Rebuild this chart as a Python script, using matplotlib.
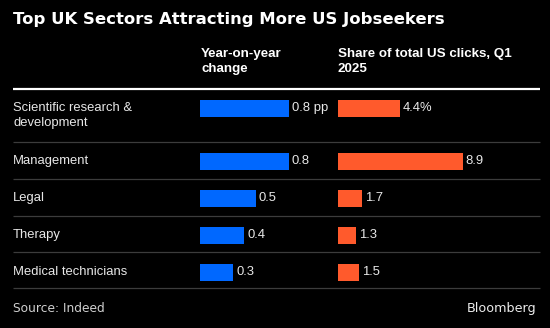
import matplotlib
matplotlib.use("Agg")
import matplotlib.pyplot as plt

# ---- data ----
sectors = ["Scientific research &\ndevelopment", "Management", "Legal", "Therapy", "Medical technicians"]
yoy_change = [0.8, 0.8, 0.5, 0.4, 0.3]
share_clicks = [4.4, 8.9, 1.7, 1.3, 1.5]
yoy_labels = ["0.8 pp", "0.8", "0.5", "0.4", "0.3"]
share_labels = ["4.4%", "8.9", "1.7", "1.3", "1.5"]

title = "Top UK Sectors Attracting More US Jobseekers"
col1_header = "Year-on-year\nchange"
col2_header = "Share of total US clicks, Q1\n2025"
source = "Source: Indeed"
brand = "Bloomberg"

BLUE = "#0068FF"
ORANGE = "#FF5A2C"
BG = "#000000"

W, H = 550, 328
fig = plt.figure(figsize=(W / 100, H / 100), dpi=100, facecolor=BG)

base = fig.add_axes([0, 0, 1, 1])
base.set_xlim(0, W)
base.set_ylim(H, 0)
base.axis("off")
base.set_facecolor(BG)

row_y = [108, 161, 198, 235, 272]
bar_h = 17

def panel(x0, width_px, xmax):
    ax = fig.add_axes([x0 / W, 0, width_px / W, 1])
    ax.set_xlim(0, xmax)
    ax.set_ylim(H, 0)
    ax.axis("off")
    ax.patch.set_alpha(0)
    return ax

ax1 = panel(200, 111, 1.0)
ax2 = panel(338, 140, 10.0)

lab_font = dict(family="Liberation Sans", size=9.4, color="#e8e8e8")

ax1.barh(row_y, yoy_change, height=bar_h, color=BLUE, left=0)
for y, v, t in zip(row_y, yoy_change, yoy_labels):
    ax1.annotate(t, (v, y), xytext=(3, 0), textcoords="offset pixels",
                 va="center", ha="left", **lab_font)

ax2.barh(row_y, share_clicks, height=bar_h, color=ORANGE, left=0)
for y, v, t in zip(row_y, share_clicks, share_labels):
    ax2.annotate(t, (v, y), xytext=(3, 0), textcoords="offset pixels",
                 va="center", ha="left", **lab_font)

# sector labels
for i, (y, s) in enumerate(zip(row_y, sectors)):
    if "\n" in s:
        base.text(13, 102, s, va="top", ha="left", linespacing=1.3, **lab_font)
    else:
        base.text(13, y, s, va="center", ha="left", **lab_font)

# title
base.text(13, 24, title, va="baseline", ha="left", family="DejaVu Sans",
          fontweight="bold", size=11.85, color="white")

# headers
hdr = dict(family="Liberation Sans", size=9.6, fontweight="bold", color="white",
           va="top", ha="left", linespacing=1.25)
base.text(201, 48.5, col1_header, **hdr)
base.text(338, 48.5, col2_header, **hdr)

# rules
base.plot([13, 540], [89, 89], color="white", lw=1.6, solid_capstyle="butt")
for y in [142, 179, 216, 252, 288]:
    base.plot([13, 540], [y, y], color="#3c3c3c", lw=0.9, solid_capstyle="butt")

# footer
base.text(13, 312, source, va="baseline", ha="left", family="DejaVu Sans",
          size=8.8, color="#cfcfcf")
base.text(536, 312, brand, va="baseline", ha="right", family="DejaVu Sans",
          size=9.2, color="#ececec")

fig.savefig("out.png", dpi=100, facecolor=BG)
